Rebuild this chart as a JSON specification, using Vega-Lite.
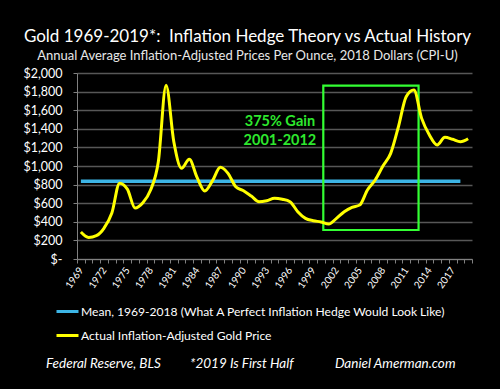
{
  "$schema": "https://vega.github.io/schema/vega-lite/v6.json",
  "autosize": "none",
  "width": 395,
  "height": 186,
  "padding": {"left": 77, "top": 73, "right": 28, "bottom": 130},
  "background": "#000000",
  "config": {
    "view": {"stroke": null},
    "font": "Lato",
    "axis": {"labelFont": "Lato", "labelColor": "#ffffff"}
  },
  "title": {
    "text": "Gold 1969-2019*:\u00a0 Inflation Hedge Theory vs Actual History",
    "subtitle": "Annual Average Inflation-Adjusted Prices Per Ounce, 2018 Dollars (CPI-U)",
    "color": "#ffffff",
    "subtitleColor": "#e8e8e8",
    "font": "Lato",
    "subtitleFont": "Lato",
    "fontSize": 17,
    "subtitleFontSize": 13,
    "fontWeight": "normal",
    "anchor": "middle",
    "dx": -27,
    "dy": 5.5,
    "offset": 9,
    "subtitlePadding": 4
  },
  "datasets": {
    "gold": [
      {"year": 1969, "price": 290}, {"year": 1970, "price": 232}, {"year": 1971, "price": 251},
      {"year": 1972, "price": 333}, {"year": 1973, "price": 494}, {"year": 1974, "price": 815},
      {"year": 1975, "price": 752}, {"year": 1976, "price": 548}, {"year": 1977, "price": 605},
      {"year": 1978, "price": 742}, {"year": 1979, "price": 1046}, {"year": 1980, "price": 1868},
      {"year": 1981, "price": 1261}, {"year": 1982, "price": 975}, {"year": 1983, "price": 1072},
      {"year": 1984, "price": 878}, {"year": 1985, "price": 731}, {"year": 1986, "price": 842},
      {"year": 1987, "price": 986}, {"year": 1988, "price": 921}, {"year": 1989, "price": 777},
      {"year": 1990, "price": 734}, {"year": 1991, "price": 677}, {"year": 1992, "price": 616},
      {"year": 1993, "price": 627}, {"year": 1994, "price": 652}, {"year": 1995, "price": 642},
      {"year": 1996, "price": 616}, {"year": 1997, "price": 509}, {"year": 1998, "price": 437},
      {"year": 1999, "price": 412}, {"year": 2000, "price": 398}, {"year": 2001, "price": 376},
      {"year": 2002, "price": 437}, {"year": 2003, "price": 509}, {"year": 2004, "price": 556},
      {"year": 2005, "price": 580}, {"year": 2006, "price": 742}, {"year": 2007, "price": 849},
      {"year": 2008, "price": 1000}, {"year": 2009, "price": 1136}, {"year": 2010, "price": 1422},
      {"year": 2011, "price": 1745}, {"year": 2012, "price": 1817}, {"year": 2013, "price": 1512},
      {"year": 2014, "price": 1333}, {"year": 2015, "price": 1226}, {"year": 2016, "price": 1308},
      {"year": 2017, "price": 1287}, {"year": 2018, "price": 1261}, {"year": 2019, "price": 1293}
    ],
    "mean": [{"start": 1969, "end": 2018, "value": 835}],
    "box": [{"x1": 2000.3, "x2": 2012.6, "y1": 312, "y2": 1865}],
    "notes": [
      {"year": 1994.7, "value": 1430, "label": "375% Gain"},
      {"year": 1994.7, "value": 1226, "label": "2001-2012"}
    ],
    "footer": [
      {"year": 1964.5, "value": -1170, "label": "Federal Reserve, BLS"},
      {"year": 1983.1, "value": -1170, "label": "*2019 Is First Half"},
      {"year": 2001.8, "value": -1170, "label": "Daniel Amerman.com"}
    ]
  },
  "resolve": {"axis": {"x": "independent", "y": "independent"}},
  "layer": [
    {
      "data": {"name": "mean"},
      "mark": {"type": "rule", "strokeWidth": 3.5},
      "encoding": {
        "x": {"field": "start", "type": "quantitative", "scale": {"domain": [1968.5, 2019.5], "nice": false, "zero": false},
          "axis": {"orient": "bottom", "title": null, "values": [1969, 1972, 1975, 1978, 1981, 1984, 1987, 1990, 1993, 1996, 1999, 2002, 2005, 2008, 2011, 2014, 2017],
            "format": "d", "ticks": false, "tickSize": 0, "domain": false, "grid": false, "labelAngle": -55, "labelAlign": "right", "labelBaseline": "middle",
            "labelPadding": 9, "labelFontSize": 10, "labelColor": "#ffffff", "labelOverlap": false}},
        "x2": {"field": "end"},
        "y": {"field": "value", "type": "quantitative", "scale": {"domain": [0, 2000], "nice": false},
          "axis": {"orient": "left", "title": null, "values": [0, 200, 400, 600, 800, 1000, 1200, 1400, 1600, 1800, 2000],
            "labelExpr": "datum.value == 0 ? '$-\u00a0\u00a0' : '$' + format(datum.value, ',')",
            "grid": true, "gridColor": "#575757", "gridWidth": 1.3, "domainColor": "#808080", "tickColor": "#808080", "tickSize": 4,
            "labelPadding": 11, "labelFontSize": 12.5, "labelColor": "#ffffff", "labelOverlap": false}},
        "color": {"datum": "Mean, 1969-2018 (What A Perfect Inflation Hedge Would Look Like)", "type": "nominal",
          "scale": {"domain": ["Mean, 1969-2018 (What A Perfect Inflation Hedge Would Look Like)", "Actual Inflation-Adjusted Gold Price"], "range": ["#3db5e6", "#ffff00"]},
          "legend": {"orient": "none", "legendX": -22, "legendY": 226, "title": null, "symbolType": "stroke", "symbolSize": 484, "symbolStrokeWidth": 3,
            "labelColor": "#ffffff", "labelFont": "Lato", "labelFontSize": 12.1, "labelOffset": 1, "rowPadding": 5, "symbolOffset": 0, "labelLimit": 0}}
      }
    },
    {
      "data": {"name": "box"},
      "mark": {"type": "rect", "fill": null, "fillOpacity": 0, "stroke": "#33ff33", "strokeWidth": 2.2},
      "encoding": {
        "x": {"field": "x1", "type": "quantitative", "axis": null},
        "x2": {"field": "x2"},
        "y": {"field": "y1", "type": "quantitative", "axis": null},
        "y2": {"field": "y2"}
      }
    },
    {
      "data": {"name": "gold"},
      "mark": {"type": "line", "strokeWidth": 3, "interpolate": "monotone"},
      "encoding": {
        "x": {"field": "year", "type": "quantitative",
          "axis": {"orient": "bottom", "title": null, "labels": false, "grid": false, "ticks": true, "tickSize": 4, "tickColor": "#808080", "domainColor": "#808080",
            "values": [1968.5, 1969.5, 1970.5, 1971.5, 1972.5, 1973.5, 1974.5, 1975.5, 1976.5, 1977.5, 1978.5, 1979.5, 1980.5, 1981.5, 1982.5, 1983.5, 1984.5, 1985.5, 1986.5, 1987.5, 1988.5, 1989.5, 1990.5, 1991.5, 1992.5, 1993.5, 1994.5, 1995.5, 1996.5, 1997.5, 1998.5, 1999.5, 2000.5, 2001.5, 2002.5, 2003.5, 2004.5, 2005.5, 2006.5, 2007.5, 2008.5, 2009.5, 2010.5, 2011.5, 2012.5, 2013.5, 2014.5, 2015.5, 2016.5, 2017.5, 2018.5, 2019.5]}},
        "y": {"field": "price", "type": "quantitative", "axis": null},
        "color": {"datum": "Actual Inflation-Adjusted Gold Price", "type": "nominal"}
      }
    },
    {
      "data": {"name": "notes"},
      "mark": {"type": "text", "color": "#2ee82e", "fontSize": 14.5, "fontWeight": "bold", "font": "Lato", "align": "center", "baseline": "alphabetic"},
      "encoding": {
        "x": {"field": "year", "type": "quantitative", "axis": null},
        "y": {"field": "value", "type": "quantitative", "axis": null},
        "text": {"field": "label"}
      }
    },
    {
      "data": {"name": "footer"},
      "mark": {"type": "text", "color": "#ffffff", "fontSize": 13.5, "fontStyle": "italic", "font": "Lato", "align": "left", "baseline": "alphabetic"},
      "encoding": {
        "x": {"field": "year", "type": "quantitative", "axis": null},
        "y": {"field": "value", "type": "quantitative", "axis": null},
        "text": {"field": "label"}
      }
    }
  ]
}
